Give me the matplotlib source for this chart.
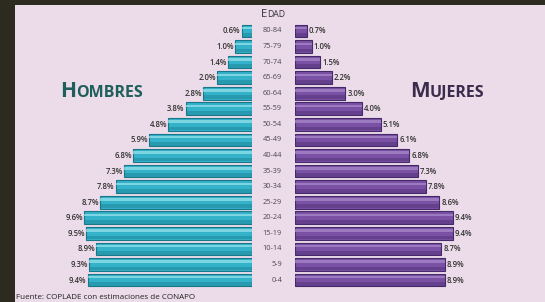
import matplotlib.pyplot as plt
from matplotlib.patches import Rectangle
from matplotlib.transforms import blended_transform_factory

edades = ["0-4", "5-9", "10-14", "15-19", "20-24", "25-29", "30-34", "35-39",
          "40-44", "45-49", "50-54", "55-59", "60-64", "65-69", "70-74",
          "75-79", "80-84"]
hombres = [9.4, 9.3, 8.9, 9.5, 9.6, 8.7, 7.8, 7.3, 6.8, 5.9, 4.8, 3.8, 2.8,
           2.0, 1.4, 1.0, 0.6]
mujeres = [8.9, 8.9, 8.7, 9.4, 9.4, 8.6, 7.8, 7.3, 6.8, 6.1, 5.1, 4.0, 3.0,
           2.2, 1.5, 1.0, 0.7]
etq_h = ["9.4%", "9.3%", "8.9%", "9.5%", "9.6%", "8.7%", "7.8%", "7.3%", "6.8%",
         "5.9%", "4.8%", "3.8%", "2.8%", "2.0%", "1.4%", "1.0%", "0.6%"]
etq_m = ["8.9%", "8.9%", "8.7%", "9.4%", "9.4%", "8.6%", "7.8%", "7.3%", "6.8%",
         "6.1%", "5.1%", "4.0%", "3.0%", "2.2%", "1.5%", "1.0%", "0.7%"]

W, H = 545, 302
plt.rcParams['font.family'] = ['Open Sans', 'DejaVu Sans']
fig = plt.figure(figsize=(W / 100, H / 100), dpi=100)
fig.patch.set_facecolor("#2d2b1f")
fig.patches.append(Rectangle((15 / W, 0), 1, (H - 5) / H, transform=fig.transFigure,
                             facecolor="#ecdbe8", edgecolor="none", zorder=-5))

bottom = (H - 287.8) / H
height = 264.6 / H
ax_h = fig.add_axes([15 / W, bottom, (252 - 15) / W, height])
ax_m = fig.add_axes([295 / W, bottom, (W - 295) / W, height])

y = list(range(len(edades)))


def barras(ax, vals, base, dark, light):
    ax.barh(y, vals, height=0.82, color=base, edgecolor=dark, linewidth=0.8, zorder=2)
    ax.barh([v - 0.26 for v in y], vals, height=0.24, color=dark, alpha=0.4,
            linewidth=0, zorder=3)
    ax.barh([v + 0.18 for v in y], vals, height=0.16, color=light, alpha=0.7,
            linewidth=0, zorder=3)


barras(ax_h, hombres, "#33b2c9", "#19778a", "#9fe4ee")
barras(ax_m, mujeres, "#7b51a5", "#45296a", "#a98ccb")

ax_h.set_xlim((252 - 15) / 17.5, 0)
ax_m.set_xlim(0, (W - 295) / 16.8)
for ax in (ax_h, ax_m):
    ax.set_ylim(-0.5, 16.5)
    ax.axis("off")

for i in y:
    ax_h.text(hombres[i] + 0.05, i, etq_h[i], ha="right", va="center",
              fontsize=5.5, color="#333333", fontweight="semibold")
    ax_m.text(mujeres[i] + 0.12, i, etq_m[i], ha="left", va="center",
              fontsize=5.5, color="#333333", fontweight="semibold")

tr = blended_transform_factory(fig.transFigure, ax_h.transData)
for i in y:
    fig.text(282 / W, i, edades[i], transform=tr, ha="right", va="center",
             fontsize=5.3, color="#4a4a4a")

# titulos en versalitas
t = fig.text(261 / W, 1 - 17 / H, "E", fontsize=8, color="#333333", va="baseline")
fig.canvas.draw()
x1 = t.get_window_extent().x1
fig.text(x1 / W, 1 - 17 / H, "DAD", fontsize=6.2, color="#333333", va="baseline")

t = fig.text(60 / W, 1 - 97 / H, "H", fontsize=15, fontweight="bold",
             color="#1e5f5c", va="baseline")
x1 = t.get_window_extent().x1
fig.text(x1 / W, 1 - 97 / H, "OMBRES", fontsize=11.5, fontweight="bold",
         color="#1e5f5c", va="baseline")

t = fig.text(410 / W, 1 - 97 / H, "M", fontsize=15, fontweight="bold",
             color="#3b2b4c", va="baseline")
x1 = t.get_window_extent().x1
fig.text(x1 / W, 1 - 97 / H, "UJERES", fontsize=11.5, fontweight="bold",
         color="#3b2b4c", va="baseline")

fig.text(16 / W, 1 - 299 / H, "Fuente: COPLADE con estimaciones de CONAPO",
         fontsize=5.8, color="#222222", va="baseline")

plt.savefig("out.png", dpi=100, facecolor=fig.get_facecolor())
